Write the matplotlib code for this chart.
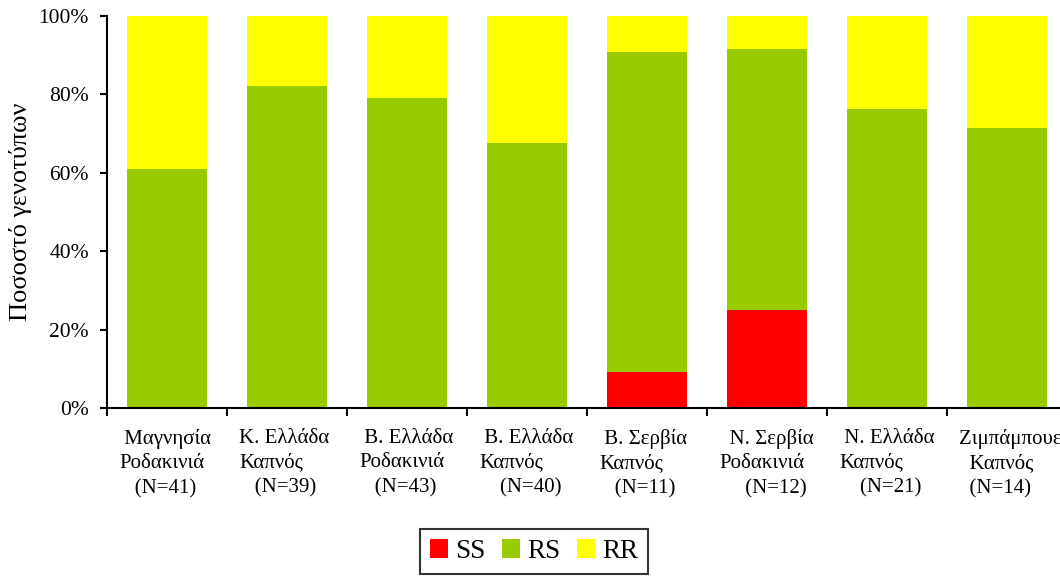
import numpy as np
import matplotlib.pyplot as plt
from matplotlib.ticker import FuncFormatter

plt.rcParams['font.family'] = ['Liberation Serif', 'DejaVu Serif']

# populations (tick labels)
labels = [" Μαγνησία\nΡοδακινιά\n   (N=41)",
          "Κ. Ελλάδα\nΚαπνός\n   (N=39)",
          " Β. Ελλάδα\nΡοδακινιά\n   (N=43)",
          " Β. Ελλάδα\nΚαπνός\n    (N=40)",
          " Β. Σερβία\nΚαπνός\n   (N=11)",
          "  Ν. Σερβία\nΡοδακινιά\n     (N=12)",
          " Ν. Ελλάδα\nΚαπνός\n    (N=21)",
          "Ζιμπάμπουε\n  Καπνός\n  (N=14)"]

# genotype percentages
ss = [0.0, 0.0, 0.0, 0.0, 9.1, 25.0, 0.0, 0.0]
rs = [61.0, 82.1, 79.1, 67.5, 81.8, 66.7, 76.2, 71.4]
rr = [39.0, 17.9, 20.9, 32.5, 9.1, 8.3, 23.8, 28.6]

fig = plt.figure(figsize=(10.6, 5.76), dpi=100)
ax = fig.add_axes([107/1060, 1 - 408/576, 960/1060, 392/576])

n = len(labels)
x = np.arange(n) + 0.5
w = 0.667
ss = np.array(ss)
rs = np.array(rs)
rr = np.array(rr)
ax.bar(x, ss, w, color='#FF0000', label='SS')
ax.bar(x, rs, w, bottom=ss, color='#99CC00', label='RS')
ax.bar(x, rr, w, bottom=ss + rs, color='#FFFF00', label='RR')

ax.set_xlim(0, n)
ax.set_ylim(0, 100)
ax.set_yticks(np.arange(0, 101, 20))
ax.yaxis.set_major_formatter(FuncFormatter(lambda v, p: f"{v:.0f}%"))
ax.set_xticks(np.arange(n + 1))
ax.set_xticklabels([])
# labels are left-aligned a little to the right of each category boundary
ax.set_xticks(np.arange(n) + 0.1, minor=True)
ax.set_xticklabels(labels, minor=True, fontsize=15, linespacing=1.39,
                   multialignment='left', ha='left')
ax.tick_params(axis='x', which='minor', length=0, pad=15)
ax.tick_params(axis='x', which='major', length=6, width=1.5, direction='out')
ax.tick_params(axis='y', length=5, width=1.5, direction='out', labelsize=15.5,
               pad=8)

for s in ['top', 'right']:
    ax.spines[s].set_visible(False)
for s in ['left', 'bottom']:
    ax.spines[s].set_linewidth(1.5)

ax.set_ylabel("Ποσοστό γενοτύπων", fontsize=19)
ax.yaxis.set_label_coords(-0.078, 0.5)

leg = fig.legend(loc='upper center', bbox_to_anchor=(534/1060, 1 - 529/576),
                 ncol=3, fontsize=19.5, frameon=True, fancybox=False,
                 edgecolor='black', handlelength=0.67, handleheight=0.67,
                 handletextpad=0.27, columnspacing=0.6, borderpad=0.37,
                 borderaxespad=0)
leg.get_frame().set_linewidth(1.5)

fig.savefig("out.png", dpi=100)
